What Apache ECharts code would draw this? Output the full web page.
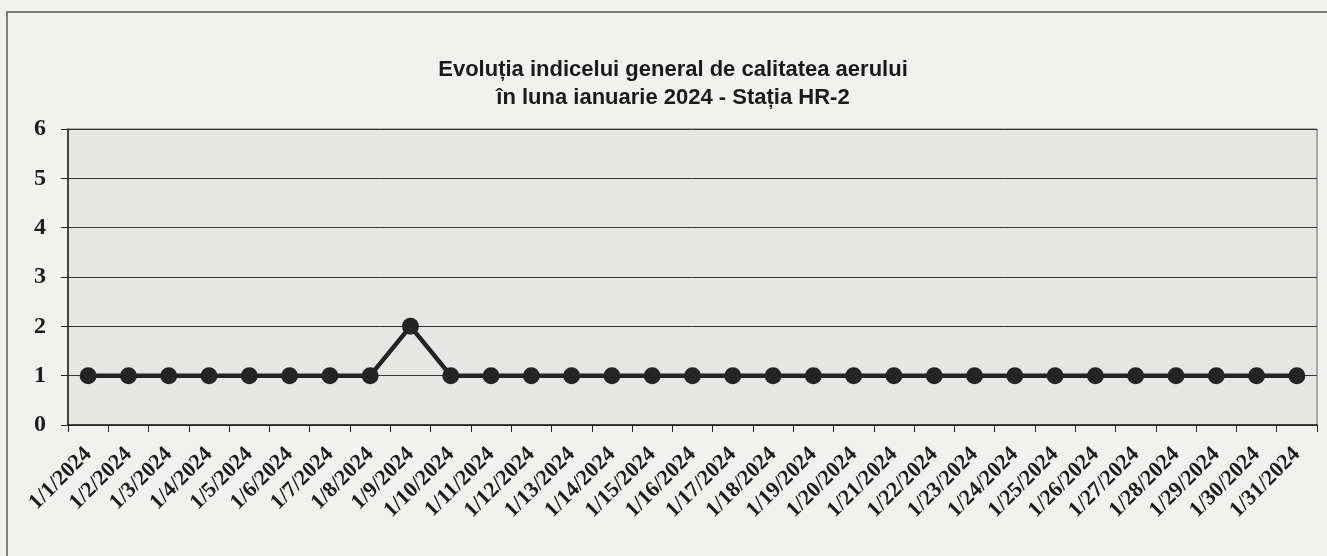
<!DOCTYPE html>
<html>
<head>
<meta charset="utf-8">
<script src="https://cdn.jsdelivr.net/npm/echarts@6/dist/echarts.min.js"></script>
<style>
  html, body { margin: 0; padding: 0; background: #f1f1ef; }
  #chart { width: 1327px; height: 556px; }
</style>
</head>
<body>
<div id="chart"></div>
<script>
// date zilnice - indicele general de calitate a aerului, HR-2
const days = [
  '1/1/2024', '1/2/2024', '1/3/2024', '1/4/2024', '1/5/2024', '1/6/2024', '1/7/2024', '1/8/2024',
  '1/9/2024', '1/10/2024', '1/11/2024', '1/12/2024', '1/13/2024', '1/14/2024', '1/15/2024', '1/16/2024',
  '1/17/2024', '1/18/2024', '1/19/2024', '1/20/2024', '1/21/2024', '1/22/2024', '1/23/2024', '1/24/2024',
  '1/25/2024', '1/26/2024', '1/27/2024', '1/28/2024', '1/29/2024', '1/30/2024', '1/31/2024'
];
const indexValues = [
  1, 1, 1, 1, 1, 1, 1, 1,
  2, 1, 1, 1, 1, 1, 1, 1,
  1, 1, 1, 1, 1, 1, 1, 1,
  1, 1, 1, 1, 1, 1, 1
];
const yTicks = [0, 1, 2, 3, 4, 5, 6];

const chart = echarts.init(document.getElementById('chart'));

const option = {
  backgroundColor: '#f1f1ef',
  animation: false,
  title: {
    text: 'Evoluția indicelui general de calitatea aerului\nîn luna ianuarie 2024 - Stația HR-2',
    left: 668,
    textAlign: 'center',
    top: 51,
    textStyle: {
      fontFamily: '"Liberation Sans", Arial, sans-serif',
      fontWeight: 'bold',
      fontSize: 22,
      lineHeight: 28,
      color: '#1a1a1a'
    }
  },
  // chenarul exterior al graficului
  graphic: [
    {
      type: 'rect',
      shape: { x: 7, y: 12, width: 1360, height: 600 },
      style: { fill: 'none', stroke: '#555', lineWidth: 1.5 },
      silent: true
    }
  ],
  grid: {
    left: 68,
    right: 10,
    top: 129,
    bottom: 131,
    show: true,
    backgroundColor: '#e6e6e5',
    borderColor: '#666',
    borderWidth: 1
  },
  xAxis: {
    type: 'category',
    data: days,
    boundaryGap: true,
    axisLine: { lineStyle: { color: '#222', width: 1.5 } },
    axisTick: { show: true, length: 7, lineStyle: { color: '#222' } },
    axisLabel: {
      rotate: 45,
      interval: 0,
      margin: 26,
      fontFamily: '"Liberation Serif", "Times New Roman", serif',
      fontWeight: 'bold',
      fontSize: 22,
      color: '#1c1c1c'
    },
    splitLine: { show: false }
  },
  yAxis: {
    type: 'value',
    min: yTicks[0],
    max: yTicks[yTicks.length - 1],
    interval: 1,
    axisLine: { show: true, lineStyle: { color: '#222', width: 1.5 } },
    axisTick: { show: true, length: 7, lineStyle: { color: '#222' } },
    axisLabel: {
      margin: 22,
      fontFamily: '"Liberation Serif", "Times New Roman", serif',
      fontWeight: 'bold',
      fontSize: 24,
      color: '#1c1c1c'
    },
    splitLine: { show: true, lineStyle: { color: '#333', width: 1 } }
  },
  series: [
    {
      type: 'line',
      data: indexValues,
      symbol: 'circle',
      symbolSize: 17,
      lineStyle: { color: '#242424', width: 4.5 },
      itemStyle: { color: '#242424' }
    }
  ]
};

chart.setOption(option);
</script>
</body>
</html>
